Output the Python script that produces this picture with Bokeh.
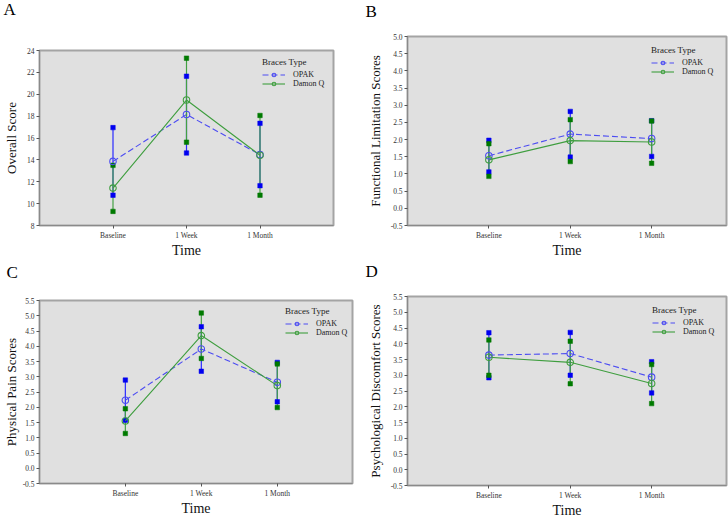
from bokeh.plotting import figure
from bokeh.models import (Range1d, FixedTicker, NumeralTickFormatter, Title,
                          Legend, LegendItem)
from bokeh.layouts import column, row
from bokeh.embed import file_html
from bokeh.resources import INLINE

# ---------------- data ----------------
categories = ["Baseline", "1 Week", "1 Month"]
series_names = ["OPAK", "Damon Q"]

A_opak_mean = [13.86, 18.15, 14.48]
A_opak_lo = [10.77, 14.63, 11.64]
A_opak_hi = [16.95, 21.65, 17.34]
A_damon_mean = [11.42, 19.47, 14.42]
A_damon_lo = [9.29, 15.62, 10.77]
A_damon_hi = [13.50, 23.30, 18.06]

B_opak_mean = [1.53, 2.16, 2.03]
B_opak_lo = [1.06, 1.49, 1.51]
B_opak_hi = [1.98, 2.82, 2.55]
B_damon_mean = [1.41, 1.97, 1.93]
B_damon_lo = [0.93, 1.36, 1.31]
B_damon_hi = [1.88, 2.58, 2.54]

C_opak_mean = [2.23, 3.91, 2.82]
C_opak_lo = [1.57, 3.18, 2.18]
C_opak_hi = [2.89, 4.64, 3.47]
C_damon_mean = [1.55, 4.35, 2.71]
C_damon_lo = [1.14, 3.60, 1.99]
C_damon_hi = [1.95, 5.09, 3.42]

D_opak_mean = [3.64, 3.69, 2.94]
D_opak_lo = [2.92, 3.00, 2.44]
D_opak_hi = [4.35, 4.36, 3.43]
D_damon_mean = [3.57, 3.41, 2.74]
D_damon_lo = [3.00, 2.73, 2.10]
D_damon_hi = [4.12, 4.08, 3.34]

A_yticks = [8, 10, 12, 14, 16, 18, 20, 22, 24]
B_yticks = [-0.5, 0.0, 0.5, 1.0, 1.5, 2.0, 2.5, 3.0, 3.5, 4.0, 4.5, 5.0]
CD_yticks = [-0.5, 0.0, 0.5, 1.0, 1.5, 2.0, 2.5, 3.0, 3.5, 4.0, 4.5, 5.0, 5.5]

# ---------------- styling ----------------
FONT = "Liberation Serif"
BLUE_LINE = "#4c4cf2"
BLUE_BAR = "#2a2aff"
BLUE_SQ = "#0000f0"
GREEN_LINE = "#3f9e3f"
GREEN_BAR = "#43a043"
GREEN_SQ = "#007a00"


def make_panel(letter, ylabel, opak, damon, yticks, yfmt, xr, yr,
               mb, ylab_standoff, letter_offset, letter_lines, letter_lh,
               letter_standoff, leg_pos):
    left, right, top, bottom = mb
    p = figure(width=364, height=260, output_backend="svg", toolbar_location=None,
               x_range=Range1d(*xr), y_range=Range1d(*yr),
               min_border_left=left, min_border_right=right,
               min_border_top=top, min_border_bottom=bottom,
               background_fill_color="#e0e0e0", border_fill_color="white",
               outline_line_color="#a4a4a4", outline_line_width=2)
    p.xgrid.visible = False
    p.ygrid.visible = False
    xs = [i + 1 for i in range(len(categories))]

    # axes
    p.xaxis.ticker = FixedTicker(ticks=xs)
    p.xaxis.major_label_overrides = {x: c for x, c in zip(xs, categories)}
    p.yaxis.ticker = FixedTicker(ticks=yticks)
    if yfmt:
        p.yaxis.formatter = NumeralTickFormatter(format=yfmt)
    for ax in (p.xaxis[0], p.yaxis[0]):
        ax.axis_line_color = "#8a8a8a"
        ax.axis_line_width = 1
        ax.major_tick_line_color = "#555555"
        ax.major_tick_out = 3
        ax.major_tick_in = 0
        ax.minor_tick_line_color = None
        ax.major_label_text_font = FONT
        ax.major_label_text_font_size = "7.5px"
        ax.major_label_text_color = "#333333"
        ax.axis_label_text_font = FONT
        ax.axis_label_text_font_style = "normal"
        ax.axis_label_text_color = "#111111"
    p.yaxis.major_label_standoff = 2
    p.xaxis.major_label_standoff = 2
    p.yaxis.axis_label = ylabel
    p.yaxis.axis_label_text_font_size = "13px"
    p.yaxis.axis_label_standoff = ylab_standoff
    p.xaxis.axis_label = "Time"
    p.xaxis.axis_label_text_font_size = "14px"
    p.xaxis.axis_label_standoff = 0

    # error bars
    for (mean, lo, hi), col in ((opak, BLUE_BAR), (damon, GREEN_BAR)):
        p.segment(x0=xs, y0=lo, x1=xs, y1=hi, line_color=col, line_width=1.2)
    for (mean, lo, hi), col in ((opak, BLUE_SQ), (damon, GREEN_SQ)):
        p.scatter(x=xs, y=lo, marker="square", size=4.5, fill_color=col,
                  line_color=col, line_alpha=0.5)
        p.scatter(x=xs, y=hi, marker="square", size=4.5, fill_color=col,
                  line_color=col, line_alpha=0.5)
    # mean lines
    l1 = p.line(x=xs, y=opak[0], line_color=BLUE_LINE, line_width=1.1,
                line_dash="6 3")
    l2 = p.line(x=xs, y=damon[0], line_color=GREEN_LINE, line_width=1.1)
    c1 = p.scatter(x=xs, y=opak[0], marker="circle", size=6.5,
                   fill_color=None, line_color=BLUE_LINE, line_width=1.1)
    c2 = p.scatter(x=xs, y=damon[0], marker="circle", size=6.5,
                   fill_color=None, line_color=GREEN_LINE, line_width=1.1)

    legend = Legend(items=[LegendItem(label=series_names[0], renderers=[l1, c1]),
                           LegendItem(label=series_names[1], renderers=[l2, c2])],
                    title="Braces Type", location=leg_pos,
                    background_fill_alpha=0, border_line_alpha=0,
                    padding=0, margin=0, spacing=0,
                    glyph_width=23, glyph_height=9, label_height=9,
                    label_standoff=8, label_text_font=FONT,
                    label_text_font_size="8px", label_text_color="#222222",
                    title_text_font=FONT, title_text_font_size="9px",
                    title_text_font_style="normal", title_text_color="#222222",
                    title_standoff=3)
    p.add_layout(legend)

    p.title = Title(text=letter + "\n " * letter_lines, align="left",
                    offset=letter_offset, standoff=letter_standoff,
                    text_font=FONT, text_font_size="17px",
                    text_font_style="normal", text_line_height=letter_lh,
                    text_color="#000000")
    return p


pA = make_panel("A", "Overall Score", (A_opak_mean, A_opak_lo, A_opak_hi),
                (A_damon_mean, A_damon_lo, A_damon_hi), A_yticks, None,
                (0, 4), (8, 24), (39, 31, 50, 34), 5, -36, 2, 0.92, -6, (223, 137))
pB = make_panel("B", "Functional Limitation Scores",
                (B_opak_mean, B_opak_lo, B_opak_hi),
                (B_damon_mean, B_damon_lo, B_damon_hi), B_yticks, "0.0",
                (0, 3.92), (-0.5, 5.0), (43, 2, 36, 34), 5, -42, 1, 0.8, 0, (244, 149))
pC = make_panel("C", "Physical Pain Scores", (C_opak_mean, C_opak_lo, C_opak_hi),
                (C_damon_mean, C_damon_lo, C_damon_hi), CD_yticks, "0.0",
                (-0.13, 3.99), (-0.5, 5.5), (36, 12, 39, 37), 1, -33, 1, 1.0, 0,
                (246, 146))
pD = make_panel("D", "Psychological Discomfort Scores",
                (D_opak_mean, D_opak_lo, D_opak_hi),
                (D_damon_mean, D_damon_lo, D_damon_hi), CD_yticks, "0.0",
                (0, 3.92), (-0.5, 5.5), (43, 2, 35, 35), 5, -42, 1, 0.8, 0, (245, 149))

layout = column(row(column(pA), column(pB)), row(column(pC), column(pD)))
open("out.html", "w").write(file_html(layout, INLINE))
